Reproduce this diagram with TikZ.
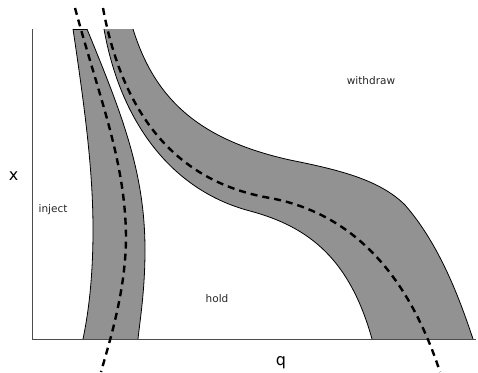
\documentclass[tikz,border=0pt]{standalone}
\usepackage{fontspec}
\setmainfont{DejaVu Sans}
\begin{document}
\begin{tikzpicture}[x=1pt,y=-1pt,
  bandfill/.style={fill=bandgray,draw=none},
  bandedge/.style={draw=black,line width=0.8pt},
  centreline/.style={draw=black,line width=2.4pt,dash pattern=on 7pt off 5pt},
  axisline/.style={draw=black!70,line width=1pt},
  biglabel/.style={inner sep=0pt,anchor=base,font=\fontsize{16}{18}\selectfont},
  smalllabel/.style={inner sep=0pt,anchor=base,font=\fontsize{10.5}{12}\selectfont,text=black!85}]
\definecolor{bandgray}{RGB}{146,146,146}
\useasboundingbox (0,0) rectangle (478,372);
% band 1
\fill[bandfill] (73,29) .. controls (85,110) and (93,170) .. (93,230)
  .. controls (93,280) and (88,315) .. (83,339) -- (138,339)
  .. controls (140,320) and (145,290) .. (145,250)
  .. controls (145,170) and (120,110) .. (87,29) -- cycle;
\draw[bandedge] (73,29) .. controls (85,110) and (93,170) .. (93,230)
  .. controls (93,280) and (88,315) .. (83,339);
\draw[bandedge] (87,29) .. controls (120,110) and (145,170) .. (145,250)
  .. controls (145,290) and (140,320) .. (138,339);
\draw[bandedge] (73,29) -- (87,29);
% band 2
\fill[bandfill] (104,29) .. controls (120,120) and (170,190) .. (250,211)
  .. controls (310,227) and (350,260) .. (372,339) -- (473,339)
  .. controls (460,300) and (440,245) .. (405,205)
  .. controls (380,180) and (340,170) .. (290,160)
  .. controls (200,140) and (155,100) .. (133,29) -- cycle;
\draw[bandedge] (104,29) .. controls (120,120) and (170,190) .. (250,211)
  .. controls (310,227) and (350,260) .. (372,339);
\draw[bandedge] (133,29) .. controls (155,100) and (200,140) .. (290,160)
  .. controls (340,170) and (380,180) .. (405,205)
  .. controls (440,245) and (460,300) .. (473,339);
% axes
\coordinate (top) at (32,29);
\coordinate (origin) at (32,339);
\coordinate (right) at (476,339);
\draw[axisline] (top) -- (origin) -- (right);
% centre lines
\draw[centreline] (75,8) .. controls (100,100) and (125,160) .. (126,236)
  .. controls (126,290) and (110,340) .. (101,372);
\draw[centreline] (103,8) .. controls (120,100) and (165,180) .. (270,198)
  .. controls (345,212) and (405,265) .. (440,372);
% labels
\node[biglabel] (xlab) at (13.5,180) {x};
\node[biglabel] (qlab) at (281,365) {q};
\node[smalllabel] (inject) at (53,212) {inject};
\node[smalllabel] (hold) at (217,302) {hold};
\node[smalllabel] (withdraw) at (371,84) {withdraw};
\end{tikzpicture}
\end{document}
